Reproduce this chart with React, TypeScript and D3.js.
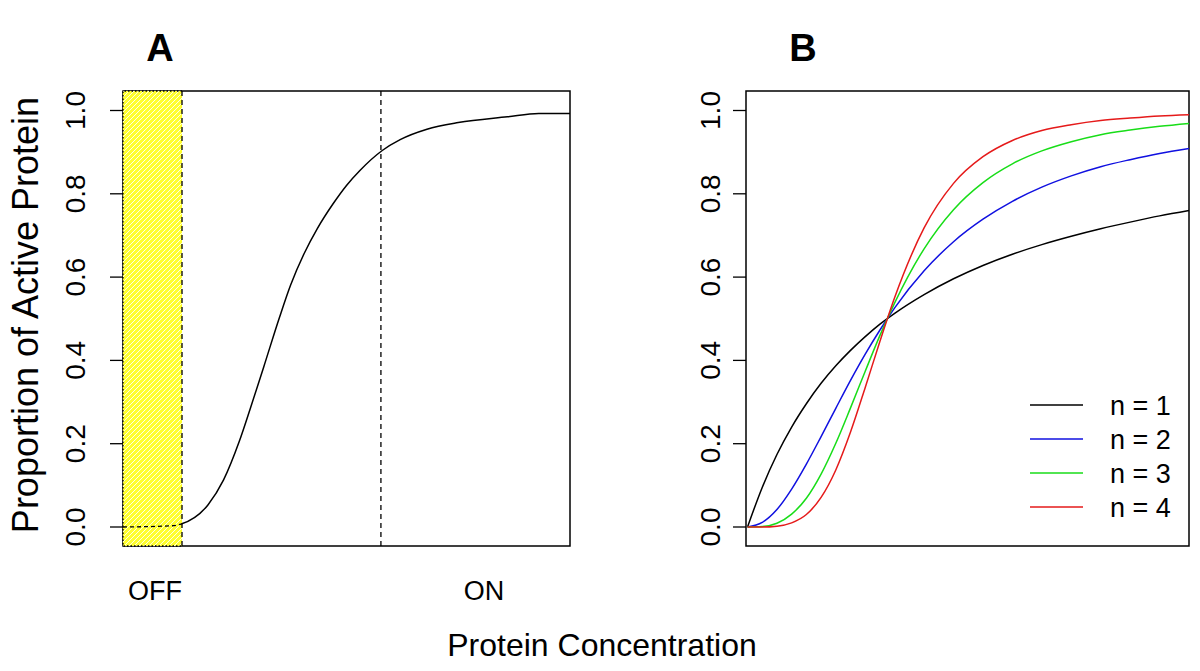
import React from 'react';
import * as d3 from 'd3';

// ---------- data ----------
const yTicks = [0, 0.2, 0.4, 0.6, 0.8, 1.0];
const yTickLabels = ['0.0', '0.2', '0.4', '0.6', '0.8', '1.0'];

// Panel A: single switch-like response curve
const aConc = [0, 1.1, 1.3, 1.9, 2.25, 2.6, 2.85, 3.15, 3.5, 3.75, 4.05, 4.35, 4.7, 5.0, 5.3, 5.8, 6.2, 6.8, 7.5, 8.6, 9.3, 10];
const aActive = [0, 0.003, 0.007, 0.053, 0.113, 0.205, 0.285, 0.385, 0.503, 0.581, 0.656, 0.717, 0.776, 0.820, 0.856, 0.904, 0.930, 0.955, 0.971, 0.985, 0.993, 0.993];
const offThreshold = 1.32;
const onThreshold = 5.77;
const zoneLabels = ['OFF', 'ON'];

// Panel B: Hill curves for n = 1..4
const bConc = [0, 1, 2, 3, 4, 5, 6, 7, 8, 9, 10, 12, 14, 16, 18, 20, 22, 24, 26, 28, 30];
const bN1 = [0, 0.095, 0.174, 0.240, 0.296, 0.345, 0.387, 0.424, 0.457, 0.487, 0.513, 0.558, 0.596, 0.628, 0.655, 0.678, 0.698, 0.716, 0.732, 0.747, 0.760];
const bN2 = [0, 0.011, 0.042, 0.091, 0.151, 0.217, 0.285, 0.352, 0.415, 0.473, 0.526, 0.615, 0.685, 0.739, 0.782, 0.816, 0.843, 0.865, 0.882, 0.897, 0.909];
const bN3 = [0, 0.001, 0.009, 0.031, 0.069, 0.127, 0.201, 0.286, 0.374, 0.460, 0.538, 0.668, 0.762, 0.827, 0.872, 0.903, 0.925, 0.942, 0.953, 0.962, 0.969];
const bN4 = [0, 0.000, 0.002, 0.010, 0.030, 0.071, 0.137, 0.228, 0.335, 0.446, 0.551, 0.718, 0.825, 0.889, 0.928, 0.952, 0.966, 0.976, 0.982, 0.987, 0.990];
const legendLabels = ['n = 1', 'n = 2', 'n = 3', 'n = 4'];
const seriesColors = ['#000000', '#1010e0', '#18dd18', '#e51a1a'];

const panelTitles = ['A', 'B'];
const yTitle = 'Proportion of Active Protein';
const xTitle = 'Protein Concentration';

const FONT = '"Liberation Sans", Arial, Helvetica, sans-serif';

export default function App() {
  const W = 1200, H = 671;
  const top = 91, bottom = 546;
  const yScale = d3.scaleLinear().domain([0, 1]).range([527, 110.5]);

  // Panel A geometry
  const aLeft = 123, aRight = 570;
  const xA = d3.scaleLinear().domain([0, 10]).range([aLeft, aRight]);
  // Panel B geometry
  const bLeft = 746, bRight = 1189;
  const xB = d3.scaleLinear().domain([0, 30]).range([bLeft + 1.5, bRight]);

  const lineA = d3.line<number>().x((_, i) => xA(aConc[i])).y(d => yScale(d)).curve(d3.curveMonotoneX);
  const lineB = d3.line<number>().x((_, i) => xB(bConc[i])).y(d => yScale(d)).curve(d3.curveMonotoneX);
  const bSeries = [bN1, bN2, bN3, bN4];

  const offX = xA(offThreshold);
  const onX = xA(onThreshold);

  const axis = (boxLeft: number, labelX: number) => (
    <g>
      {yTicks.map((t, i) => (
        <g key={i}>
          <line x1={boxLeft - 13} x2={boxLeft} y1={yScale(t)} y2={yScale(t)} stroke="#000" strokeWidth={1.3} />
          <text
            transform={`translate(${labelX},${yScale(t)}) rotate(-90)`}
            textAnchor="middle"
            fontSize={28}
            fontFamily={FONT}
            fill="#000"
          >
            {yTickLabels[i]}
          </text>
        </g>
      ))}
    </g>
  );

  return (
    <svg width={W} height={H} style={{ position: 'absolute', left: 0, top: 0, background: '#fff' }}>
      <defs>
        <pattern id="hatch" patternUnits="userSpaceOnUse" width={5} height={5}>
          <rect width={5} height={5} fill="#ffff2e" />
          <path d="M-1,1 l2,-2 M0,5 l5,-5 M4,6 l2,-2" stroke="#ffffff" strokeWidth={1} opacity={0.85} />
        </pattern>
        <clipPath id="offClip">
          <rect x={aLeft} y={top} width={offX - aLeft} height={bottom - top} />
        </clipPath>
      </defs>
      <rect width={W} height={H} fill="#fff" />

      {/* ---------- Panel A ---------- */}
      <text x={160} y={61} textAnchor="middle" fontSize={38} fontWeight="bold" fontFamily={FONT}>{panelTitles[0]}</text>
      <rect x={aLeft} y={top} width={aRight - aLeft} height={bottom - top} fill="none" stroke="#000" strokeWidth={1.5} />
      <path d={lineA(aActive) || ''} fill="none" stroke="#000" strokeWidth={1.5} />
      {/* OFF zone */}
      <rect x={aLeft} y={top} width={offX - aLeft} height={bottom - top} fill="url(#hatch)" />
      <path
        d={`M${offX},${top} H${aLeft} V${bottom} H${offX}`}
        fill="none" stroke="#000" strokeWidth={1.3} strokeDasharray="1.5,2"
      />
      <g clipPath="url(#offClip)">
        <path d={lineA(aActive) || ''} fill="none" stroke="#000" strokeWidth={1.3} strokeDasharray="4,3" />
      </g>
      <line x1={offX} x2={offX} y1={top} y2={bottom} stroke="#000" strokeWidth={1.3} strokeDasharray="5,4" />
      <line x1={onX} x2={onX} y1={top} y2={bottom} stroke="#000" strokeWidth={1.3} strokeDasharray="5,4" />
      {axis(aLeft, 85)}
      <text x={155} y={600} textAnchor="middle" fontSize={27} fontFamily={FONT}>{zoneLabels[0]}</text>
      <text x={484} y={600} textAnchor="middle" fontSize={27} fontFamily={FONT}>{zoneLabels[1]}</text>
      <text
        transform={`translate(38,${315}) rotate(-90)`}
        textAnchor="middle" fontSize={36} fontFamily={FONT}
      >
        {yTitle}
      </text>

      {/* ---------- Panel B ---------- */}
      <text x={803} y={61} textAnchor="middle" fontSize={38} fontWeight="bold" fontFamily={FONT}>{panelTitles[1]}</text>
      <rect x={bLeft} y={top} width={bRight - bLeft} height={bottom - top} fill="none" stroke="#000" strokeWidth={1.5} />
      {bSeries.map((s, i) => (
        <path key={i} d={lineB(s) || ''} fill="none" stroke={seriesColors[i]} strokeWidth={1.5} />
      ))}
      {axis(bLeft, 720)}
      {legendLabels.map((l, i) => (
        <g key={i}>
          <line x1={1030} x2={1083} y1={405 + i * 34} y2={405 + i * 34} stroke={seriesColors[i]} strokeWidth={1.5} />
          <text x={1110} y={405 + i * 34 + 10} fontSize={27} fontFamily={FONT}>{l}</text>
        </g>
      ))}

      {/* ---------- shared x title ---------- */}
      <text x={602} y={656} textAnchor="middle" fontSize={32} fontFamily={FONT}>{xTitle}</text>
    </svg>
  );
}
